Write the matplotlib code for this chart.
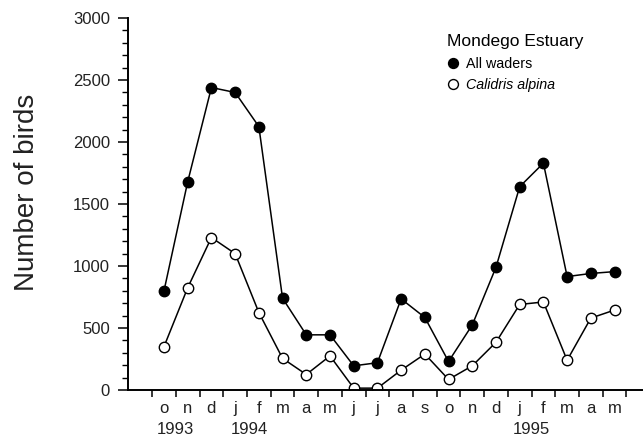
import numpy as np
import matplotlib.pyplot as plt
from matplotlib.ticker import MultipleLocator
import matplotlib.transforms as mtransforms

plt.rcParams['font.family'] = ['Liberation Sans', 'DejaVu Sans']

# Monthly counts, October 1993 to May 1995
months = ['o', 'n', 'd', 'j', 'f', 'm', 'a', 'm', 'j', 'j',
          'a', 's', 'o', 'n', 'd', 'j', 'f', 'm', 'a', 'm']
all_waders = [800, 1680, 2440, 2400, 2125, 740, 445, 445, 195, 220,
              735, 585, 230, 525, 990, 1640, 1830, 915, 940, 955]
calidris = [350, 825, 1230, 1100, 625, 255, 125, 275, 15, 15,
            160, 290, 85, 195, 385, 690, 710, 240, 580, 645]
years = ['1993', '1994', '1995']
year_pos = [0.5, 3.6, 15.5]

x = np.arange(len(months))

fig = plt.figure(figsize=(6.43, 4.36), dpi=100)
ax = fig.add_axes([0.199, 0.1055, 0.801, 0.853])

ax.plot(x, all_waders, '-o', color='black', lw=1.1, ms=7.5,
        mfc='black', mec='black', label='All waders')
ax.plot(x, calidris, '-o', color='black', lw=1.1, ms=7.5,
        mfc='white', mec='black', mew=1.0, label='Calidris alpina')

ax.set_xlim(-1.52, 20.2)
ax.set_ylim(0, 3000)
for side in ['top', 'right']:
    ax.spines[side].set_visible(False)
for side in ['left', 'bottom']:
    ax.spines[side].set_linewidth(1.4)
ax.spines['left'].set_bounds(0, 3000)

ax.yaxis.set_major_locator(MultipleLocator(500))
ax.yaxis.set_minor_locator(MultipleLocator(100))
ax.tick_params(axis='y', which='major', length=7, width=1.1, labelsize=12,
               labelcolor='#222222', pad=6)
ax.tick_params(axis='y', which='minor', length=4, width=1.0)

# ticks sit between the months, labels centred on each month
ax.set_xticks(np.arange(-0.5, 20, 1.0))
ax.set_xticklabels([])
ax.set_xticks(x, minor=True)
ax.set_xticklabels(months, minor=True)
ax.tick_params(axis='x', which='major', length=5, width=1.1)
ax.tick_params(axis='x', which='minor', length=0, labelsize=12,
               labelcolor='#222222', pad=8)

trans = mtransforms.blended_transform_factory(ax.transData, ax.transAxes)
for yr, pos in zip(years, year_pos):
    ax.text(pos, -0.118, yr, transform=trans, ha='center', va='baseline',
            fontsize=12, color='#222222')

ax.set_ylabel('Number of birds', fontsize=20, color='#222222')
ax.yaxis.set_label_coords(-0.171, 0.532)

leg = ax.legend(loc='upper left', bbox_to_anchor=(0.6, 0.985), frameon=False,
                title='Mondego Estuary', fontsize=10.3, title_fontsize=12.5,
                handlelength=0.8, handletextpad=0.5, labelspacing=0.55,
                markerscale=0.95, borderpad=0.2)
leg._legend_box.align = 'left'
for ln in leg.get_lines():
    ln.set_linestyle('')
leg.get_texts()[1].set_fontstyle('italic')

fig.savefig('out.png', dpi=100)
